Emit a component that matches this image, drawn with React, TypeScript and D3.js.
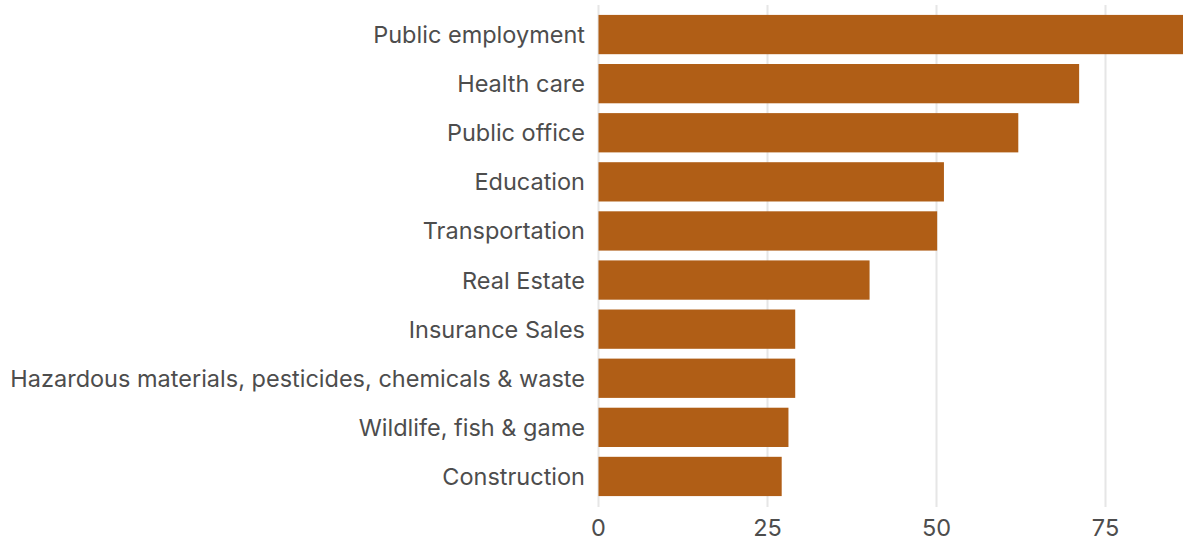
import React from "react";
import * as d3 from "d3";

const categories = [
  "Public employment",
  "Health care",
  "Public office",
  "Education",
  "Transportation",
  "Real Estate",
  "Insurance Sales",
  "Hazardous materials, pesticides, chemicals & waste",
  "Wildlife, fish & game",
  "Construction",
];
const values = [87, 71.1, 62.1, 51.1, 50.1, 40.1, 29.1, 29.1, 28.1, 27.1];
const ticks = [0, 25, 50, 75];

const W = 1183;
const H = 537;

export default function App() {
  const x = d3.scaleLinear().domain([0, 25]).range([598.5, 767.5]);
  const y = d3
    .scaleBand<string>()
    .domain(categories)
    .range([10, 501])
    .paddingInner(0.2)
    .paddingOuter(0.1);
  const font = "Inter, 'Noto Sans', sans-serif";
  return (
    <svg
      width={W}
      height={H}
      style={{ position: "fixed", left: 0, top: 0, background: "#fff" }}
    >
      {ticks.map((t) => (
        <line
          key={"g" + t}
          x1={x(t)}
          x2={x(t)}
          y1={5}
          y2={507}
          stroke="#e6e6e6"
          strokeWidth={2}
        />
      ))}
      {categories.map((c, i) => (
        <rect
          key={c}
          x={x(0)}
          y={y(c)}
          width={x(values[i]) - x(0)}
          height={y.bandwidth()}
          fill="#b05e16"
        />
      ))}
      {categories.map((c) => (
        <text
          key={"l" + c}
          x={585}
          y={(y(c) as number) + y.bandwidth() / 2}
          dy="0.36em"
          textAnchor="end"
          fontFamily={font}
          fontSize={23.5}
          fill="#4d4d4d"
        >
          {c}
        </text>
      ))}
      {ticks.map((t) => (
        <text
          key={"t" + t}
          x={x(t)}
          y={536}
          textAnchor="middle"
          fontFamily={font}
          fontSize={23.5}
          fill="#4d4d4d"
        >
          {t}
        </text>
      ))}
    </svg>
  );
}
